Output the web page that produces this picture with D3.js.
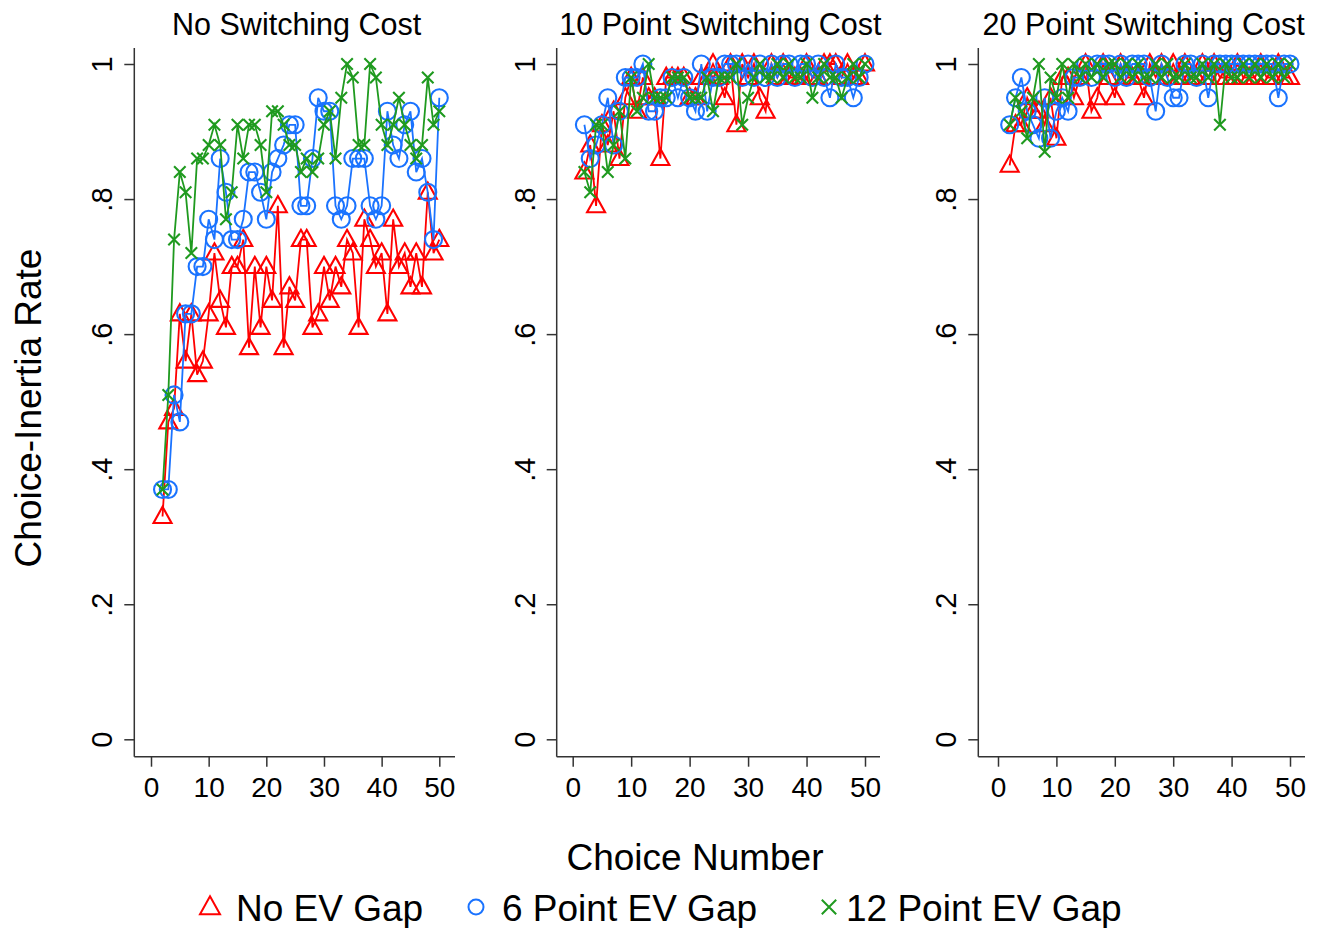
<!DOCTYPE html>
<html>
<head>
<meta charset="utf-8">
<script src="https://cdn.jsdelivr.net/npm/d3@7"></script>
<style>
  html, body { margin: 0; padding: 0; background: #fff; }
  svg { display: block; font-family: "Liberation Sans", Arial, sans-serif; }
</style>
</head>
<body>
<svg id="chart" width="1331" height="928"></svg>
<script>
// ---------------- DATA ----------------
const choiceNumbers = d3.range(2, 51); // choices 2..50
const panelTitles = ["No Switching Cost", "10 Point Switching Cost", "20 Point Switching Cost"];
const seriesNames = ["No EV Gap", "6 Point EV Gap", "12 Point EV Gap"];
const xTickValues = [0, 10, 20, 30, 40, 50];
const yTickValues = [0, 0.2, 0.4, 0.6, 0.8, 1];
const yTickLabels = ["0", ".2", ".4", ".6", ".8", "1"];

// Panel 1: No Switching Cost
const noCost_noGap = [0.33,0.47,0.49,0.63,0.56,0.63,0.54,0.56,0.63,0.72,0.65,0.61,0.70,0.70,0.74,0.58,0.70,0.61,0.70,0.65,0.79,0.58,0.67,0.65,0.74,0.74,0.61,0.63,0.70,0.65,0.70,0.67,0.74,0.72,0.61,0.77,0.74,0.70,0.72,0.63,0.77,0.70,0.72,0.67,0.72,0.67,0.81,0.72,0.74];
const noCost_gap6 = [0.37,0.37,0.51,0.47,0.63,0.63,0.70,0.70,0.77,0.74,0.86,0.81,0.74,0.74,0.77,0.84,0.84,0.81,0.77,0.84,0.86,0.88,0.91,0.91,0.79,0.79,0.86,0.95,0.93,0.93,0.79,0.77,0.79,0.86,0.86,0.86,0.79,0.77,0.79,0.93,0.88,0.86,0.91,0.93,0.84,0.86,0.81,0.74,0.95];
const noCost_gap12 = [0.37,0.51,0.74,0.84,0.81,0.72,0.86,0.86,0.88,0.91,0.88,0.77,0.81,0.91,0.86,0.91,0.91,0.88,0.81,0.93,0.93,0.91,0.88,0.88,0.84,0.86,0.84,0.86,0.91,0.93,0.86,0.95,1.00,0.98,0.88,0.88,1.00,0.98,0.91,0.88,0.91,0.95,0.91,0.88,0.86,0.88,0.98,0.91,0.93];

// Panel 2: 10 Point Switching Cost
const cost10_noGap = [0.84,0.88,0.79,0.91,0.88,0.93,0.86,0.95,0.98,0.93,0.98,0.95,0.95,0.86,0.98,0.98,0.98,0.98,0.95,0.95,0.98,0.98,1.00,0.98,0.95,1.00,0.91,1.00,0.98,1.00,0.95,0.93,1.00,0.98,1.00,0.98,0.98,0.98,1.00,0.98,0.98,1.00,1.00,1.00,0.98,1.00,0.98,0.98,1.00];
const cost10_gap6 = [0.91,0.86,0.88,0.91,0.95,0.88,0.93,0.98,0.98,0.98,1.00,0.93,0.93,0.95,0.95,0.98,0.95,0.98,0.95,0.93,1.00,0.93,0.98,0.98,1.00,1.00,1.00,0.98,1.00,0.98,1.00,0.98,1.00,0.98,1.00,1.00,0.98,1.00,1.00,0.98,1.00,0.98,0.95,1.00,0.98,0.98,0.95,0.98,1.00];
const cost10_gap12 = [0.84,0.81,0.91,0.91,0.84,0.88,0.93,0.86,0.98,0.93,0.95,1.00,0.95,0.95,0.95,0.98,0.98,0.98,0.95,0.95,0.95,0.98,0.93,0.98,0.98,0.98,1.00,0.91,0.95,0.98,1.00,0.98,0.98,1.00,0.98,1.00,0.98,0.98,1.00,0.95,0.98,1.00,0.98,0.98,0.95,0.98,1.00,0.98,1.00];

// Panel 3: 20 Point Switching Cost
const cost20_noGap = [0.85,0.91,0.91,0.95,0.93,0.93,0.91,0.95,0.89,0.98,0.98,0.95,0.98,1.00,0.93,0.95,1.00,0.98,0.95,1.00,0.98,0.98,0.98,0.95,1.00,0.98,1.00,0.98,1.00,0.98,1.00,0.98,0.98,1.00,0.98,1.00,0.98,0.98,0.98,1.00,0.98,0.98,0.98,1.00,0.98,0.98,1.00,0.98,0.98];
const cost20_gap6 = [0.91,0.95,0.98,0.93,0.91,0.89,0.95,0.89,0.93,0.95,0.93,0.98,0.98,1.00,0.98,1.00,1.00,1.00,0.98,1.00,0.98,1.00,1.00,1.00,0.98,0.93,1.00,0.98,0.95,0.95,1.00,1.00,0.98,1.00,0.95,1.00,1.00,1.00,1.00,1.00,1.00,1.00,1.00,1.00,1.00,1.00,0.95,1.00,1.00];
const cost20_gap12 = [0.91,0.95,0.93,0.89,0.95,1.00,0.87,0.98,0.95,1.00,0.95,1.00,0.98,1.00,0.98,1.00,0.98,1.00,1.00,0.98,1.00,0.98,1.00,0.98,0.98,1.00,0.98,1.00,0.98,0.98,1.00,0.98,0.98,1.00,0.98,1.00,0.91,1.00,0.98,0.98,1.00,0.98,1.00,0.98,1.00,0.98,1.00,0.98,1.00];

const panelSeries = [
  [noCost_noGap, noCost_gap6, noCost_gap12],
  [cost10_noGap, cost10_gap6, cost10_gap12],
  [cost20_noGap, cost20_gap6, cost20_gap12]
];

// ---------------- STYLE / LAYOUT ----------------
const colors = ["#ff0000", "#1a73ff", "#1f9a1f"];
const markerTypes = ["triangle", "circle", "x"];
const panelLayout = [
  { axisLeft: 134.3, axisRight: 455, x0: 151, x50: 439.3 },
  { axisLeft: 556.7, axisRight: 880, x0: 572.7, x50: 865 },
  { axisLeft: 978.3, axisRight: 1305, x0: 998, x50: 1290 }
];
const yTopPix = 64, yZeroPix = 739.3, axisTop = 48, axisBottom = 756.7;

const svg = d3.select("#chart");
const y = d3.scaleLinear().domain([0, 1]).range([yZeroPix, yTopPix]);
const axisColor = "#333";

function drawMarker(g, type, cx, cy, color, s, sw) {
  if (type === "triangle") {
    const h = s * 0.9;
    g.append("path")
      .attr("d", `M${cx},${cy - h * 0.6} L${cx + s / 2},${cy + h * 0.4} L${cx - s / 2},${cy + h * 0.4} Z`)
      .attr("fill", "none").attr("stroke", color).attr("stroke-width", sw);
  } else if (type === "circle") {
    g.append("circle").attr("cx", cx).attr("cy", cy).attr("r", s / 2)
      .attr("fill", "none").attr("stroke", color).attr("stroke-width", sw);
  } else {
    const r = s * 0.36;
    g.append("path")
      .attr("d", `M${cx - r},${cy - r} L${cx + r},${cy + r} M${cx - r},${cy + r} L${cx + r},${cy - r}`)
      .attr("fill", "none").attr("stroke", color).attr("stroke-width", sw);
  }
}

panelLayout.forEach((L, pi) => {
  const x = d3.scaleLinear().domain([0, 50]).range([L.x0, L.x50]);
  const g = svg.append("g");

  // axis lines
  g.append("line").attr("x1", L.axisLeft).attr("x2", L.axisLeft).attr("y1", axisTop).attr("y2", axisBottom)
    .attr("stroke", axisColor).attr("stroke-width", 1.5);
  g.append("line").attr("x1", L.axisLeft).attr("x2", L.axisRight).attr("y1", axisBottom).attr("y2", axisBottom)
    .attr("stroke", axisColor).attr("stroke-width", 1.5);

  // x axis
  const xa = g.append("g").attr("transform", `translate(0,${axisBottom})`)
    .call(d3.axisBottom(x).tickValues(xTickValues).tickSize(10).tickPadding(10).tickFormat(d3.format("d")));
  xa.select(".domain").remove();
  xa.selectAll(".tick line").attr("stroke", axisColor).attr("stroke-width", 1.5);
  xa.selectAll(".tick text").attr("font-size", 28).attr("fill", "#000")
    .attr("font-family", "Liberation Sans, Arial, sans-serif").attr("dy", "0.71em");

  // y axis
  const ya = g.append("g").attr("transform", `translate(${L.axisLeft},0)`)
    .call(d3.axisLeft(y).tickValues(yTickValues).tickSize(10).tickFormat((d, i) => yTickLabels[i]));
  ya.select(".domain").remove();
  ya.selectAll(".tick line").attr("stroke", axisColor).attr("stroke-width", 1.5);
  ya.selectAll(".tick text")
    .attr("font-size", 29).attr("fill", "#000")
    .attr("font-family", "Liberation Sans, Arial, sans-serif")
    .attr("x", null).attr("dy", null)
    .attr("text-anchor", "middle")
    .attr("transform", "translate(-22,0) rotate(-90)");

  // title
  svg.append("text").attr("x", (L.axisLeft + L.axisRight) / 2 + 2).attr("y", 35)
    .attr("text-anchor", "middle").attr("font-size", 30.5).attr("fill", "#000")
    .text(panelTitles[pi]);

  // series
  panelSeries[pi].forEach((vals, si) => {
    const pts = vals.map((v, i) => [choiceNumbers[i], v]);
    const line = d3.line().x(d => x(d[0])).y(d => y(d[1]));
    g.append("path").datum(pts).attr("d", line).attr("fill", "none")
      .attr("stroke", colors[si]).attr("stroke-width", 1.8);
    const mg = g.append("g");
    pts.forEach(d => {
      const s = markerTypes[si] === "circle" ? 17 : (markerTypes[si] === "triangle" ? 18 : 16);
      drawMarker(mg, markerTypes[si], x(d[0]), y(d[1]), colors[si], s, 2.1);
    });
  });
});

// axis titles
svg.append("text").attr("transform", "translate(41,408) rotate(-90)")
  .attr("text-anchor", "middle").attr("font-size", 37).attr("fill", "#000")
  .text("Choice-Inertia Rate");
svg.append("text").attr("x", 695).attr("y", 870)
  .attr("text-anchor", "middle").attr("font-size", 37).attr("fill", "#000")
  .text("Choice Number");

// legend
const legendPos = [
  { mx: 210, tx: 236 },
  { mx: 476, tx: 502 },
  { mx: 829, tx: 846 }
];
const lg = svg.append("g");
seriesNames.forEach((name, i) => {
  const p = legendPos[i];
  const s = markerTypes[i] === "circle" ? 15 : (markerTypes[i] === "triangle" ? 20 : 20);
  drawMarker(lg, markerTypes[i], p.mx, 907, colors[i], s, 2);
  lg.append("text").attr("x", p.tx).attr("y", 921).attr("font-size", 37).attr("fill", "#000").text(name);
});
</script>
</body>
</html>
